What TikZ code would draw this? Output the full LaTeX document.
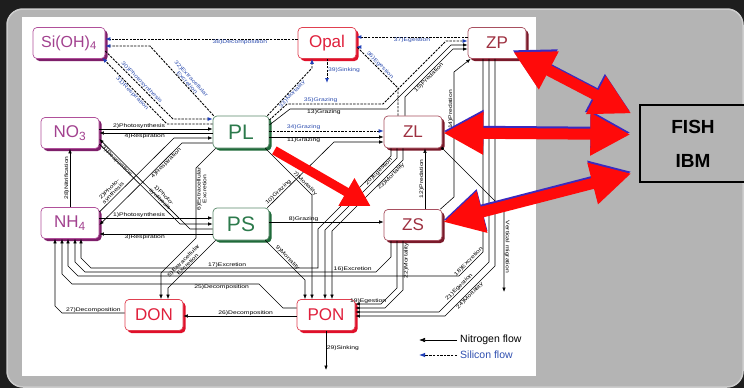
\documentclass[tikz,border=0pt]{standalone}
\usepackage{fontspec}
\setmainfont{Liberation Sans}
\newfontfamily\lblfont[FakeStretch=1.3]{Liberation Sans}
\usetikzlibrary{arrows.meta,calc,shadows}
\definecolor{bgdark}{HTML}{1E1E1E}
\definecolor{panel}{HTML}{B4B4B4}
\definecolor{panelrim}{HTML}{CDCDCD}
\definecolor{nutT}{HTML}{A2418F}
\definecolor{nutB}{HTML}{B0509A}
\definecolor{nutS}{HTML}{7E1F6A}
\definecolor{phyT}{HTML}{2C7A4C}
\definecolor{phyB}{HTML}{5A8A6A}
\definecolor{phyS}{HTML}{1F6A3A}
\definecolor{detT}{HTML}{E0203C}
\definecolor{detB}{HTML}{E04050}
\definecolor{detS}{HTML}{E0102A}
\definecolor{zooT}{HTML}{9E3040}
\definecolor{zooB}{HTML}{A85060}
\definecolor{zooS}{HTML}{7A1A2A}
\definecolor{siblue}{HTML}{2F4FB0}
\definecolor{tipblue}{HTML}{1F3FB8}
\definecolor{arrowred}{HTML}{FF0A0A}
\definecolor{arrowblue}{HTML}{3A2AC0}
\tikzset{
  box/.style={rounded corners=4pt, fill=white, line width=0.7pt, inner sep=0pt,
    minimum height=31pt, minimum width=58pt, font=\fontsize{17}{17}\selectfont},
  nut/.style={box, draw=nutB, text=nutT,
    drop shadow={shadow xshift=2.5pt, shadow yshift=-2.5pt, fill=nutS, opacity=1}},
  phy/.style={box, draw=phyB, text=phyT, minimum width=56pt, minimum height=32pt,
    font=\fontsize{21}{21}\selectfont,
    drop shadow={shadow xshift=2.5pt, shadow yshift=-2.5pt, fill=phyS, opacity=1}},
  det/.style={box, draw=detB, text=detT,
    drop shadow={shadow xshift=2.5pt, shadow yshift=-2.5pt, fill=detS, opacity=1}},
  zoo/.style={box, draw=zooB, text=zooT,
    drop shadow={shadow xshift=2.5pt, shadow yshift=-2.5pt, fill=zooS, opacity=1}},
  nflow/.style={draw=black, line width=0.6pt, -{Latex[length=4.5pt,width=3.5pt]}},
  sflow/.style={draw=black, line width=0.9pt, dash pattern=on 2.4pt off 1.2pt,
    -{Latex[length=5pt,width=4pt,color=tipblue]}},
  lab/.style={font=\lblfont\fontsize{5.2}{5.6}\selectfont, inner sep=0.6pt, text=black},
  slab/.style={lab, text=siblue},
  bigred/.style={draw=arrowred, line width=11pt,
    {Triangle[length=40pt,width=40pt]}-{Triangle[length=40pt,width=40pt]}},
  bigblue/.style={draw=arrowblue, line width=11pt,
    {Triangle[length=40pt,width=40pt]}-{Triangle[length=40pt,width=40pt]}},
}
\begin{document}
\begin{tikzpicture}[x=1pt,y=-1pt]
\useasboundingbox (0,0) rectangle (744,388);
% background
\fill[bgdark] (0,0) rectangle (744,388);
\filldraw[fill=panel, draw=panelrim, line width=1.5pt, rounded corners=16pt] (7,9) rectangle (743,387);
\fill[white] (22,17) rectangle (536,376);

% nodes
\node[nut, minimum width=72pt, font=\fontsize{16}{16}\selectfont] (sioh) at (69,43) {Si(OH)\textsubscript{4}};
\node[det] (opal) at (327,43) {Opal};
\node[zoo] (zp) at (497,43) {ZP};
\node[nut] (no3) at (70,133) {NO\textsubscript{3}};
\node[phy] (pl) at (241,132) {PL};
\node[zoo, minimum height=32pt] (zl) at (413,132) {ZL};
\node[nut] (nh4) at (70,223) {NH\textsubscript{4}};
\node[phy] (ps) at (241,224) {PS};
\node[zoo] (zs) at (413,225) {ZS};
\node[det] (don) at (154,315) {DON};
\node[det] (pon) at (326,315) {PON};

\coordinate (opalsink) at (327,83);
\coordinate (ponsink) at (326,370);
\coordinate (vmend) at (504,292);

% silicon flows
\draw[sflow] ($(opal.west)+(0,-4)$) -- node[slab, below, pos=0.3] {38)Decomposition} ($(sioh.east)+(0,-4)$);
\draw[sflow] ($(pl.north west)+(1,0)$) -- node[slab, sloped, above, pos=0.45, align=center] {32)Extracellular\\Excretion} (150,46) -- ($(sioh.east)+(0,3)$);
\draw[sflow] ($(sioh.east)+(0,8)$) -- node[slab, sloped, above, pos=0.5] {30)Photosynthesis} (173,119) -- ($(pl.west)+(0,-13)$);
\draw[sflow] ($(pl.west)+(0,-8)$) -- (167,124) -- node[slab, sloped, below, pos=0.5] {31)Respiration} ($(sioh.south east)+(-3,-1)$);
\draw[sflow] ($(pl.north east)+(-2,0)$) -- node[slab, sloped, below, pos=0.5] {33)Mortality} (312,68) -- ($(opal.south)+(-15,0)$);
\draw[sflow] (opal.south) -- node[slab, right, pos=0.45] {39)Sinking} (opalsink);
\draw[sflow] ($(pl.east)+(0,-12)$) -- (287,104) -- node[slab, above, pos=0.35] {35)Grazing} (383,104) -- (446,41) -- ($(zp.west)+(0,-2)$);
\draw[sflow] ($(pl.east)+(0,-1)$) -- node[slab, above, pos=0.3] {34)Grazing} ($(zl.west)+(0,-1)$);
\draw[sflow] ($(zl.north)+(-15,0)$) -- (398,88) -- node[slab, sloped, above, pos=0.5] {36)Egestion} (357,47) -- ($(opal.east)+(0,4)$);
\draw[sflow] ($(zp.west)+(0,-6)$) -- node[slab, below, pos=0.5] {37)Egestion} ($(opal.east)+(0,-6)$);

% nitrogen: grazing / predation
\draw[nflow] ($(pl.east)+(0,-7)$) -- (290,109) -- node[lab, below, pos=0.35] {13)Grazing} (387,109) -- (451,45) -- ($(zp.west)+(0,2)$);
\draw[nflow] ($(pl.east)+(0,5)$) -- node[lab, below, pos=0.3] {11)Grazing} ($(zl.west)+(0,5)$);
\draw[nflow] ($(ps.north east)+(-2,0)$) -- node[lab, sloped, above, pos=0.2] {10)Grazing} (334,142) -- ($(zl.west)+(0,10)$);
\draw[nflow] ($(zl.north)+(-8,0)$) -- (405,97) -- node[lab, sloped, below, pos=0.45] {15)Predation} (453,49) -- ($(zp.west)+(0,6)$);
\draw[nflow] ($(ps.east)+(0,-2)$) -- node[lab, above, pos=0.3] {8)Grazing} ($(zs.west)+(0,-3)$);
\draw[nflow] ($(zs.north)+(12,0)$) -- node[lab, rotate=90, anchor=south, midway] {12)Predation} ($(zl.south)+(12,0)$);
\draw[nflow] ($(zs.north east)+(-2,0)$) -- (454,197) -- node[lab, rotate=90, anchor=south, pos=0.7] {14)Predation} (454,72) -- ($(zp.south west)+(3,0)$);
\draw[nflow] (zl.south east) -- (504,210) -- node[lab, rotate=-90, anchor=south, pos=0.45] {Vertical migration} (vmend);
\fill (zl.south east) circle (1.6pt);

% nutrients <-> phytoplankton
\draw[nflow] ($(no3.east)+(0,-4)$) -- node[lab, above, pos=0.35] {2)Photosynthesis} ($(pl.west)+(0,-3)$);
\draw[nflow] ($(pl.west)+(0,1)$) -- node[lab, below, pos=0.6] {4)Respiration} (no3.east);
\draw[nflow] ($(nh4.east)+(0,-11)$) -- node[lab, sloped, above, pos=0.22, align=center] {2)Photo-\\synthesis} (174,138) -- ($(pl.west)+(0,6)$);
\draw[nflow] ($(pl.west)+(0,11)$) -- (182,143) -- node[lab, sloped, below, pos=0.22] {4)Respiration} ($(nh4.east)+(0,2)$);
\draw[nflow] ($(no3.east)+(0,11)$) -- node[lab, sloped, above, pos=0.72, align=center] {1)Photo-\\synthesis} (180,224) -- (ps.west);
\draw[nflow] ($(ps.west)+(0,5)$) -- (190,229) -- node[lab, sloped, below, pos=0.78] {3)Respiration} ($(no3.east)+(0,6)$);
\draw[nflow] ($(nh4.east)+(0,-5)$) -- node[lab, above, pos=0.35] {1)Photosynthesis} ($(ps.west)+(0,-6)$);
\draw[nflow] ($(ps.west)+(0,10)$) -- node[lab, below, pos=0.6] {3)Respiration} ($(nh4.east)+(0,11)$);
\draw[nflow] (nh4.north) -- node[lab, rotate=90, anchor=south, midway] {28)Nitrification} (no3.south);

% extracellular excretion, mortality
\draw[nflow] ($(pl.south west)+(3,0)$) -- (196,168) -- node[lab, rotate=90, anchor=north, pos=0.3, align=center] {6)Extracellular\\Excretion} (196,238) -- (161,273) -- ($(don.north)+(7,0)$);
\draw[nflow] ($(ps.south west)+(3,0)$) -- node[lab, sloped, above, pos=0.55, align=center] {5)Extracellular\\Excretion} (168,288) -- ($(don.north)+(14,0)$);
\draw[nflow] ($(pl.south east)+(-4,0)$) -- node[lab, sloped, above, pos=0.8] {7)Mortality} (312,195) -- ($(pon.north)+(-14,0)$);
\draw[nflow] ($(ps.south east)+(-4,0)$) -- node[lab, sloped, above, pos=0.5] {9)Mortality} (305,280) -- ($(pon.north)+(-21,0)$);

% zooplankton to NH4 / PON
\draw[nflow] ($(zl.south)+(-22,0)$) -- (391,156) -- (318,229) -- (318,268) -- node[lab, above, pos=0.4] {17)Excretion} (91,268) -- (81,258) -- ($(nh4.south)+(11,0)$);
\draw[nflow] ($(zl.south)+(-16,0)$) -- (397,158) -- node[lab, sloped, above, pos=0.22] {20)Egestion} (325,230) -- ($(pon.north)+(-1,0)$);
\draw[nflow] ($(zl.south)+(-10,0)$) -- (403,160) -- node[lab, sloped, below, pos=0.2] {23)Mortality} (332,231) -- ($(pon.north)+(6,0)$);
\draw[nflow] ($(zs.south)+(-22,0)$) -- (391,257) -- (376,272) -- node[lab, above, pos=0.08] {16)Excretion} (85,272) -- (75,262) -- ($(nh4.south)+(5,0)$);
\draw[nflow] ($(zs.south)+(-16,0)$) -- (397,288) -- (381,304) -- node[lab, above, pos=0.5] {19)Egestion} ($(pon.east)+(0,-11)$);
\draw[nflow] ($(zs.south)+(-10,0)$) -- node[lab, rotate=90, anchor=north, pos=0.4] {22)Mortality} (403,290) -- (385,308) -- ($(pon.east)+(0,-7)$);
\draw[nflow] ($(zp.south)+(-14,0)$) -- (483,252) -- node[lab, sloped, above, pos=0.5] {18)Excretion} (459,276) -- (78,276) -- (68,266) -- ($(nh4.south)+(-2,0)$);
\draw[nflow] ($(zp.south)+(-8,0)$) -- (489,262) -- node[lab, sloped, above, pos=0.55] {21)Egestion} (439,312) -- ($(pon.east)+(0,-3)$);
\draw[nflow] ($(zp.south)+(-2,0)$) -- (495,266) -- node[lab, sloped, below, pos=0.55] {24)Mortality} (445,316) -- ($(pon.east)+(0,1)$);

% detritus
\draw[nflow] ($(pon.west)+(0,-7)$) -- (283,308) -- (259,284) -- node[lab, below, pos=0.2] {25)Decomposition} (72,284) -- (62,274) -- ($(nh4.south)+(-8,0)$);
\draw[nflow] ($(pon.west)+(0,1)$) -- node[lab, above, pos=0.45] {26)Decomposition} ($(don.east)+(0,1)$);
\draw[nflow] ($(don.west)+(0,-2)$) -- node[lab, above, pos=0.5] {27)Decomposition} (62,313) -- (55,306) -- ($(nh4.south)+(-15,0)$);
\draw[nflow] (pon.south) -- node[lab, right, pos=0.45] {29)Sinking} (ponsink);

% legend
\coordinate (l1a) at (457,340); \coordinate (l1b) at (419,340);
\coordinate (l2a) at (457,355); \coordinate (l2b) at (419,355);
\draw[nflow, -{Latex[length=6pt,width=4.5pt]}] (l1a) -- (l1b);
\draw[sflow, -{Latex[length=6pt,width=4.5pt,color=tipblue]}] (l2a) -- (l2b);
\node[anchor=west, font=\fontsize{10.5}{11}\selectfont, inner sep=1pt] (legn) at (459,340) {Nitrogen flow};
\node[anchor=west, font=\fontsize{10.5}{11}\selectfont, text=siblue, inner sep=1pt] (legs) at (459,355) {Silicon flow};

% fish IBM
\node[draw=black, line width=1.3pt, fill=panel, minimum width=106pt, minimum height=77pt,
      align=center, font=\bfseries\fontsize{19}{34}\selectfont] (fish) at (693,143.5) {FISH\\IBM};

% big red arrows
\coordinate (r1a) at ($(zp.east)+(-13,9)$);
\coordinate (r1b) at ($(fish.west)+(-8,-30)$);
\coordinate (r2a) at ($(zl.east)+(1,1)$);
\coordinate (r2b) at ($(fish.west)+(-9,-9)$);
\coordinate (r3a) at ($(zs.east)+(1,-3)$);
\coordinate (r3b) at ($(fish.west)+(-8,30)$);
\coordinate (r4a) at ($(pl.south east)+(5,2)$);
\coordinate (r4b) at ($(zs.west)+(-13,-19)$);
\draw[bigblue] ($(r1a)+(-1,-2)$) -- ($(r1b)+(-1,-2)$);
\draw[bigblue] ($(r2a)+(0,-2)$) -- ($(r2b)+(0,-2)$);
\draw[bigblue] ($(r3a)+(0,-2)$) -- ($(r3b)+(0,-2)$);
\draw[bigred] (r1a) -- (r1b);
\draw[bigred] (r2a) -- (r2b);
\draw[bigred] (r3a) -- (r3b);
\draw[draw=arrowred, line width=9pt, -{Triangle[length=28pt,width=30pt]}] (r4a) -- (r4b);
\end{tikzpicture}
\end{document}
